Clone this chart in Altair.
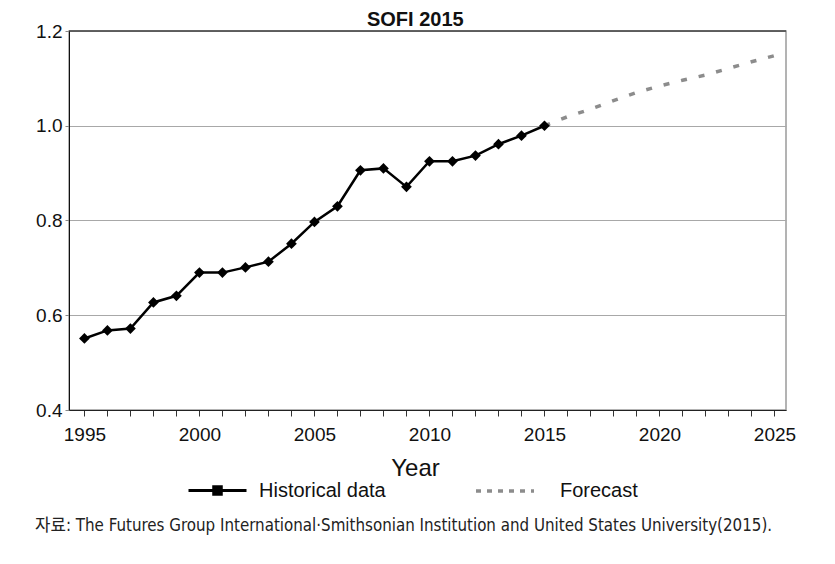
import altair as alt
import pandas as pd

# ---- data ----
hist_years = list(range(1995, 2016))
hist_values = [0.551, 0.568, 0.572, 0.627, 0.641, 0.690, 0.690, 0.701, 0.713, 0.751,
               0.797, 0.830, 0.906, 0.910, 0.871, 0.925, 0.925, 0.937, 0.961, 0.979, 1.000]
fc_years = list(range(2015, 2026))
fc_values = [1.000, 1.019, 1.035, 1.053, 1.070, 1.084, 1.096, 1.107, 1.121, 1.135, 1.148]
series_names = ["Historical data", "Forecast"]
x_ticks = list(range(1995, 2026))
y_ticks = [0.4, 0.6, 0.8, 1.0, 1.2]
title_text = "SOFI 2015"
x_title = "Year"
source_text = "자료: The Futures Group International·Smithsonian Institution and United States University(2015)."

hist = pd.DataFrame({"year": hist_years, "value": hist_values,
                     "series": series_names[0], "kind": series_names[0]})
fc = pd.DataFrame({"year": fc_years, "value": fc_values,
                   "series": series_names[1], "kind": series_names[1]})
top = pd.DataFrame({"v": [y_ticks[-1]]})
src = pd.DataFrame({"t": [source_text]})

FONT = "Liberation Sans, Arial, sans-serif"
NARROW = "Liberation Sans Narrow, Arial Narrow, DejaVu Sans Condensed, Noto Sans CJK KR, sans-serif"

x_enc = alt.X("year:Q",
              scale=alt.Scale(domain=[1994.33, 2025.5], nice=False, zero=False),
              axis=alt.Axis(values=x_ticks, format="d",
                            labelExpr="datum.value % 5 === 0 ? datum.label : ''",
                            grid=False, tickSize=6, tickColor="#333", domainColor="#222",
                            labelPadding=9, labelFontSize=19, labelFont=FONT, labelColor="#111",
                            labelOverlap=False, labelFlush=False,
                            title=x_title, titleFont=FONT, titleFontSize=24, titleFontWeight="normal",
                            titleColor="#111", titleX=346, titleY=65, titleAlign="center",
                            titleBaseline="alphabetic"))
y_enc = alt.Y("value:Q",
              scale=alt.Scale(domain=[y_ticks[0], y_ticks[-1]], nice=False, zero=False),
              axis=alt.Axis(values=y_ticks, format=".1f", grid=True, gridColor="#a8a8a8",
                            gridWidth=1, domainColor="#111", tickColor="#888", tickSize=4,
                            labelPadding=3, labelFontSize=19, labelFont=FONT, labelColor="#111",
                            title=None))

color_enc = alt.Color("series:N",
                      scale=alt.Scale(domain=series_names, range=["#000000", "#8c8c8c"]),
                      legend=alt.Legend(
                          title=None, orient="none", legendX=118, legendY=429,
                          values=[series_names[0]],
                          symbolType="M-1,0H1M-0.13,-0.13H0.13V0.13H-0.13Z",
                          symbolSize=3364, symbolStrokeWidth=3, symbolFillColor="#000000",
                          labelFont=FONT, labelFontSize=20, labelColor="#111",
                          labelOffset=11))
# reversed domain order keeps this legend separate from the colour legend
width_enc = alt.StrokeWidth("kind:N",
                            scale=alt.Scale(domain=series_names[::-1], range=[3.5, 2.5]),
                            legend=alt.Legend(
                                title=None, orient="none", legendX=405, legendY=429,
                                values=[series_names[1]],
                                symbolType="stroke", symbolSize=3364, symbolDash=[5, 6],
                                symbolStrokeColor="#8c8c8c",
                                labelFont=FONT, labelFontSize=20, labelColor="#111",
                                labelOffset=24))

forecast = alt.Chart(fc).mark_line(strokeDash=[6, 12]).encode(
    x=x_enc, y=y_enc, color=color_enc, strokeWidth=width_enc)
history = alt.Chart(hist).mark_line().encode(
    x=x_enc, y=y_enc, color=color_enc, strokeWidth=width_enc)
points = alt.Chart(hist).mark_point(shape="diamond", filled=True, size=115, color="#000000",
                                    opacity=1).encode(x=x_enc, y=y_enc)
top_rule = alt.Chart(top).mark_rule(color="#111", strokeWidth=1).encode(y="v:Q")
source = alt.Chart(src).mark_text(align="left", baseline="alphabetic", font=NARROW,
                                  fontSize=16.8, color="#222").encode(
    x=alt.value(-34), y=alt.value(500), text="t:N")

chart = alt.layer(forecast, history, points, top_rule, source).properties(
    width=717, height=379,
    title=alt.TitleParams(title_text, font=FONT, fontSize=20, fontWeight="bold",
                          anchor="middle", frame="bounds", color="#111", offset=-8),
    autosize=alt.AutoSizeParams(type="none"),
    padding={"left": 61, "top": 23, "right": 41, "bottom": 146},
).configure_view(stroke="#9a9a9a", strokeWidth=1.5)

chart.save("out.html", embed_options={"renderer": "svg", "actions": False})
